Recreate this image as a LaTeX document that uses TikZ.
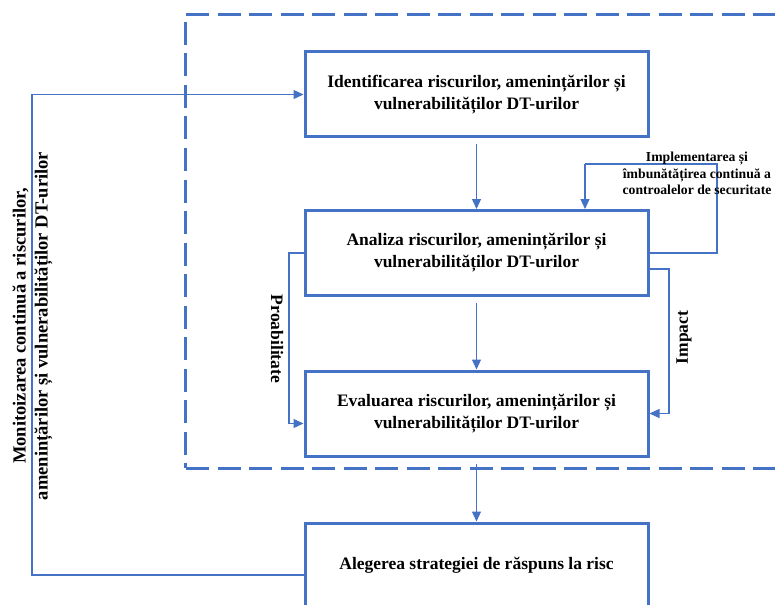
\documentclass[tikz,border=0pt]{standalone}
\usepackage{fontspec}
\setmainfont{Liberation Serif}
\usetikzlibrary{arrows.meta}
\definecolor{ofblue}{HTML}{4472C4}
\begin{document}
\begin{tikzpicture}[x=1pt,y=-1pt,
  stage/.style={draw=ofblue,line width=3pt,minimum width=343pt,minimum height=85pt,
    inner sep=0pt,align=center,font=\fontsize{17.5}{22}\selectfont\bfseries},
  conn/.style={draw=ofblue,line width=1.2pt,-{Triangle[length=10pt,width=9pt]}},
  link/.style={draw=ofblue,line width=1.2pt},
  lbl/.style={inner sep=0pt,align=center,font=\fontsize{17.5}{22}\selectfont\bfseries},
  frame/.style={draw=ofblue,line width=3pt,dash pattern=on 23pt off 8.5pt}]
\useasboundingbox (0,0) rectangle (775,604);

% dashed frame around the assessment stages
\draw[frame] (186,15) -- (775,15);
\draw[frame] (185,22) -- (185,468);
\draw[frame] (186,468) -- (775,468);

% stages
\node[stage] (b1) at (476.5,94.5) {Identificarea riscurilor, amenințărilor și\\vulnerabilităților DT-urilor};
\node[stage] (b2) at (476.5,253) {Analiza riscurilor, amenințărilor și\\vulnerabilităților DT-urilor};
\node[stage] (b3) at (476.5,413.5) {Evaluarea riscurilor, amenințărilor și\\vulnerabilităților DT-urilor};
\node[stage] (b4) at (476.5,565.5) {Alegerea strategiei de răspuns la risc};

% main flow
\draw[conn,shorten <=6pt] (b1.south) -- (b2.north);
\draw[conn,shorten <=6pt] (b2.south) -- (b3.north);
\draw[conn,shorten <=6pt] (b3.south) -- (b4.north);

% control improvement loop
\coordinate (ia) at (717,253);
\coordinate (ib) at (717,164);
\coordinate (ic) at (585,164);
\draw[link] (b2.east) -- (ia) -- (ib) -- (ic);
\draw[conn] (ic) -- (ic |- b2.north);
\node[lbl,font=\fontsize{13.7}{16.5}\selectfont\bfseries] (limp) at (697,173.5)
  {Implementarea și\\îmbunătățirea continuă a\\controalelor de securitate};

% impact branch
\coordinate (pa) at (669,269);
\coordinate (pb) at (669,413.5);
\draw[link] ([yshift=-16pt]b2.east) -- (pa) -- (pb);
\draw[conn] (pb) -- (b3.east);
\node[lbl,rotate=90] (limpact) at (684,337.5) {Impact};

% probability branch
\coordinate (qa) at (289,253);
\coordinate (qb) at (289,423.5);
\draw[link] (b2.west) -- (qa) -- (qb);
\draw[conn] (qb) -- ([yshift=-10pt]b3.west);
\node[lbl,rotate=-90] (lprob) at (277,339) {Proabilitate};

% monitoring feedback loop
\coordinate (ma) at (32,575);
\coordinate (mb) at (32,94.5);
\draw[link] ([yshift=-9.5pt]b4.west) -- (ma) -- (mb);
\draw[conn] (mb) -- (b1.west);
\node[lbl,rotate=90,font=\fontsize{18.5}{22}\selectfont\bfseries] (lmon) at (32.5,326)
  {Monitoizarea continuă a riscurilor,\\amenințărilor și vulnerabilităților DT-urilor};
\end{tikzpicture}
\end{document}
